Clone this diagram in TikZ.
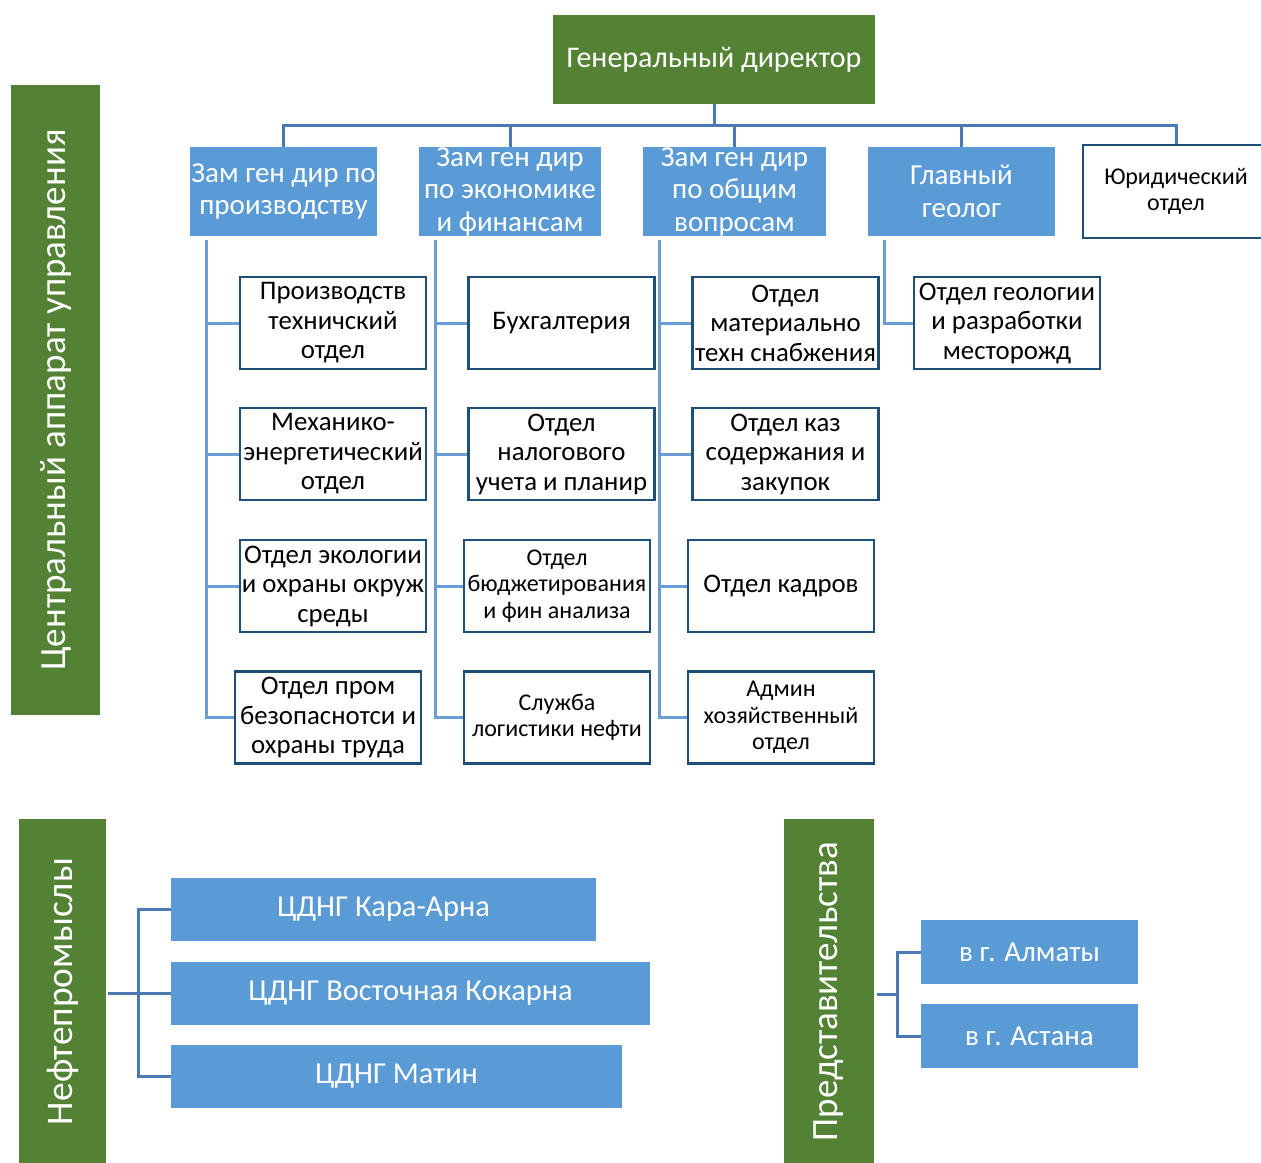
\documentclass[tikz,border=0pt]{standalone}
\usepackage{fontspec}
\setmainfont{Carlito}
\definecolor{gfill}{HTML}{548235}
\definecolor{bfill}{HTML}{5B9BD5}
\definecolor{busc}{HTML}{4A7AB0}
\definecolor{subc}{HTML}{6A9DD2}
\definecolor{bordc}{HTML}{1F4E79}
\tikzset{
  gbox/.style={fill=gfill, draw=none, text=white, inner sep=0, align=center},
  bbox/.style={fill=bfill, draw=none, text=white, inner sep=0, align=center,
    font=\fontsize{29}{32.5}\selectfont},
  dept/.style={draw=bordc, line width=2.5pt, fill=white, inner sep=0, align=center,
    minimum width=186pt, minimum height=92pt, font=\fontsize{26.8}{29.5}\selectfont},
  small/.style={font=\fontsize{24}{26.5}\selectfont},
  conn/.style={draw=busc, line width=3pt},
  conn2/.style={draw=subc, line width=3pt},
}
\begin{document}
\begin{tikzpicture}[x=1pt,y=-1pt]
\useasboundingbox (0,0) rectangle (1261,1162);
% director
\node[gbox, minimum width=322pt, minimum height=89pt, font=\fontsize{30}{34}\selectfont] (dir) at (714,59.5) {Генеральный директор};
% deputies
\node[bbox, minimum width=187pt, minimum height=89pt] (z1) at (283.5,191.5) {Зам ген дир по\\производству};
\node[bbox, minimum width=182pt, minimum height=89pt] (z2) at (510,191.5) {Зам ген дир\\по экономике\\и финансам};
\node[bbox, minimum width=183pt, minimum height=89pt] (z3) at (734.5,191.5) {Зам ген дир\\по общим\\вопросам};
\node[bbox, minimum width=187pt, minimum height=89pt] (z4) at (961.5,191.5) {Главный\\геолог};
\node[dept, small, minimum height=93pt] (yur) at (1176,191.5) {Юридический\\отдел};
% departments column 1
\node[dept] (d11) at (333,323) {Производств\\техничский\\отдел};
\node[dept] (d12) at (333,454) {Механико-\\энергетический\\отдел};
\node[dept] (d13) at (333,586) {Отдел экологии\\и охраны окруж\\среды};
\node[dept] (d14) at (328,717.5) {Отдел пром\\безопаснотси и\\охраны труда};
% column 2
\node[dept] (d21) at (561.5,323) {Бухгалтерия};
\node[dept] (d22) at (561.5,454) {Отдел\\налогового\\учета и планир};
\node[dept, small] (d23) at (557,586) {Отдел\\бюджетирования\\и фин анализа};
\node[dept, small] (d24) at (557,717.5) {Служба\\логистики нефти};
% column 3
\node[dept] (d31) at (785.5,323) {Отдел\\материально\\техн снабжения};
\node[dept] (d32) at (785.5,454) {Отдел каз\\содержания и\\закупок};
\node[dept] (d33) at (781,586) {Отдел кадров};
\node[dept, small] (d34) at (781,717.5) {Админ\\хозяйственный\\отдел};
% column 4
\node[dept] (d41) at (1007,323) {Отдел геологии\\и разработки\\месторожд};
% top bus
\coordinate (busy) at (0,125);
\draw[conn] (dir.south) -- (dir.south |- busy);
\draw[conn] (z1.north) -- (z1.north |- busy) -- (yur.north |- busy) -- (yur.north);
\draw[conn] (z2.north) -- (z2.north |- busy);
\draw[conn] (z3.north) -- (z3.north |- busy);
\draw[conn] (z4.north) -- (z4.north |- busy);
% column connectors
\coordinate (c1) at ([xshift=17pt,yshift=-4pt]z1.south west);
\coordinate (c2) at ([xshift=17pt,yshift=-4pt]z2.south west);
\coordinate (c3) at ([xshift=17pt,yshift=-4pt]z3.south west);
\coordinate (c4) at ([xshift=17pt,yshift=-4pt]z4.south west);
\draw[conn2] (c1) |- (d14.west);
\draw[conn2] (c2) |- (d24.west);
\draw[conn2] (c3) |- (d34.west);
\draw[conn2] (c4) |- (d41.west);
\foreach \c/\r in {1/1,1/2,1/3,2/1,2/2,2/3,3/1,3/2,3/3}{
  \draw[conn2] (c\c |- d\c\r.west) -- (d\c\r.west);
}
% green side labels
\node[gbox, rotate=90, minimum width=630pt, minimum height=89pt, font=\fontsize{37}{42}\selectfont] (g1) at (55.5,400) {Центральный аппарат управления};
\node[gbox, rotate=90, minimum width=345pt, minimum height=87pt, font=\fontsize{37.5}{42}\selectfont] (g2) at (62.5,991.5) {Нефтепромыслы};
\node[gbox, rotate=90, minimum width=345pt, minimum height=90pt, font=\fontsize{37}{42}\selectfont] (g3) at (829,991.5) {Представительства};
% oil fields
\node[bbox, minimum width=425pt, minimum height=63pt, font=\fontsize{30.4}{34}\selectfont] (n1) at (383.5,909.5) {ЦДНГ Кара-Арна};
\node[bbox, minimum width=479pt, minimum height=63pt, font=\fontsize{30.4}{34}\selectfont] (n2) at (410.5,993.5) {ЦДНГ Восточная Кокарна};
\node[bbox, minimum width=451pt, minimum height=63pt, font=\fontsize{30.4}{34}\selectfont] (n3) at (396.5,1076.5) {ЦДНГ Матин};
\coordinate (j1) at (138,993.5);
\draw[conn] (n1.west) -| (j1) |- (n3.west);
\draw[conn] (n2.west) -- ([xshift=2pt]n2.west -| g2.south);
% representations
\node[bbox, minimum width=217pt, minimum height=64pt, font=\fontsize{29}{34}\selectfont] (a1) at (1029.5,952) {в г. Алматы};
\node[bbox, minimum width=217pt, minimum height=64pt, font=\fontsize{29}{34}\selectfont] (a2) at (1029.5,1036) {в г. Астана};
\coordinate (j2) at (897,994);
\draw[conn] (a1.west) -| (j2) |- (a2.west);
\draw[conn] (j2) -- ([xshift=3pt]j2 -| g3.south);
\end{tikzpicture}
\end{document}
